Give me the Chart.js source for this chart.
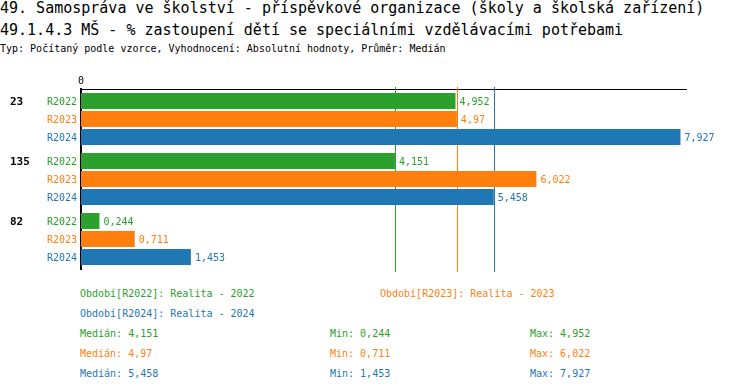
<!DOCTYPE html>
<html>
<head>
<meta charset="utf-8">
<script src="https://cdn.jsdelivr.net/npm/chart.js@4"></script>
<style>
  html, body { margin: 0; padding: 0; background: #fff; }
  body { width: 750px; height: 392px; position: relative; overflow: hidden; font-family: "DejaVu Sans Mono", monospace; }
  .t { position: absolute; white-space: pre; }
  .h1 { font-size: 15px; line-height: 16px; color: #000; }
  .sm { font-size: 10px; line-height: 12px; }
  #wrap { position: absolute; left: 0; top: 60px; width: 750px; height: 220px; }
</style>
</head>
<body>
<div class="t h1" style="left:0;top:0">49. Samospráva ve školství - příspěvkové organizace (školy a školská zařízení)</div>
<div class="t h1" style="left:0;top:22px">49.1.4.3 MŠ - % zastoupení dětí se speciálními vzdělávacími potřebami</div>
<div class="t sm" style="left:0;top:43px;color:#000">Typ: Počítaný podle vzorce, Vyhodnocení: Absolutní hodnoty, Průměr: Medián</div>
<div id="wrap"><canvas id="chart" width="750" height="220"></canvas></div>
<div id="info"></div>
<script>
'use strict';

// --- data ---
const GROUPS   = ['23', '135', '82'];
const SERIES   = ['R2022', 'R2023', 'R2024'];
const R2022    = [4.952, 4.151, 0.244];
const R2023    = [4.97, 6.022, 0.711];
const R2024    = [7.927, 5.458, 1.453];
const PERIODS  = ['Realita - 2022', 'Realita - 2023', 'Realita - 2024'];
const COLORS   = ['#2ca02c', '#ff7f0e', '#1f77b4'];

const VALUES = [R2022, R2023, R2024];
const fmt = v => String(v).replace('.', ',');
const median = arr => {
  const s = arr.slice().sort((a, b) => a - b);
  const m = Math.floor(s.length / 2);
  return s.length % 2 ? s[m] : (s[m - 1] + s[m]) / 2;
};
const MEDIANS = VALUES.map(median);

const FONT = '"DejaVu Sans Mono", monospace';

// group labels, row labels, value labels and median lines
const overlay = {
  id: 'overlay',
  beforeDatasetsDraw(chart) {
    const { ctx, chartArea, scales } = chart;
    ctx.save();
    ctx.lineWidth = 1;
    MEDIANS.forEach((m, i) => {
      const x = Math.round(scales.x.getPixelForValue(m)) + 0.5;
      ctx.strokeStyle = COLORS[i];
      ctx.beginPath();
      ctx.moveTo(x, chartArea.top - 2);
      ctx.lineTo(x, chartArea.bottom + 3);
      ctx.stroke();
    });
    ctx.restore();
  },
  afterDatasetsDraw(chart) {
    const { ctx, chartArea } = chart;
    ctx.save();
    ctx.textBaseline = 'middle';
    // group names sit on the first row of each group
    ctx.font = 'bold 11px ' + FONT;
    ctx.fillStyle = '#000';
    ctx.textAlign = 'left';
    chart.getDatasetMeta(0).data.forEach((bar, j) => {
      ctx.fillText(GROUPS[j], 10, bar.y + 1);
    });
    ctx.font = '10px ' + FONT;
    chart.data.datasets.forEach((ds, i) => {
      chart.getDatasetMeta(i).data.forEach((bar, j) => {
        ctx.fillStyle = COLORS[i];
        ctx.textAlign = 'right';
        ctx.fillText(SERIES[i], chartArea.left - 4, bar.y + 1);
        ctx.textAlign = 'left';
        ctx.fillText(fmt(ds.data[j]), bar.x + 4, bar.y + 1);
      });
    });
    ctx.restore();
  }
};

new Chart(document.getElementById('chart'), {
  type: 'bar',
  data: {
    labels: GROUPS,
    datasets: SERIES.map((s, i) => ({
      label: s,
      data: VALUES[i],
      backgroundColor: COLORS[i],
      categoryPercentage: 0.9,
      barPercentage: 16 / 18,
    }))
  },
  options: {
    indexAxis: 'y',
    responsive: false,
    animation: false,
    layout: { padding: { top: 9, bottom: 11, left: 10, right: 64 } },
    plugins: { legend: { display: false }, tooltip: { enabled: false } },
    scales: {
      x: {
        position: 'top',
        min: 0, max: 8,
        grid: { display: false, drawTicks: false, tickLength: 0 },
        border: { display: true, color: '#000', width: 1 },
        afterFit: s => { s.height = 20; },
        ticks: {
          autoSkip: false,
          stepSize: 1,
          padding: 2,
          color: '#000',
          font: { family: FONT, size: 10 },
          callback: v => (v === 0 ? '0' : '')
        }
      },
      y: {
        grid: { display: false },
        border: { display: true, color: '#000', width: 2 },
        afterFit: s => { s.width = 71; },
        ticks: { display: false }
      }
    }
  },
  plugins: [overlay]
});

// legend and statistics as text
const info = document.getElementById('info');
function put(text, x, y, color) {
  const d = document.createElement('div');
  d.className = 't sm';
  d.style.left = x + 'px';
  d.style.top = y + 'px';
  d.style.color = color;
  d.textContent = text;
  info.appendChild(d);
}
put('Období[' + SERIES[0] + ']: ' + PERIODS[0], 80, 288, COLORS[0]);
put('Období[' + SERIES[1] + ']: ' + PERIODS[1], 380, 288, COLORS[1]);
put('Období[' + SERIES[2] + ']: ' + PERIODS[2], 80, 308, COLORS[2]);
VALUES.forEach((vals, i) => {
  const y = 328 + i * 20;
  put('Medián: ' + fmt(MEDIANS[i]), 80, y, COLORS[i]);
  put('Min: ' + fmt(Math.min(...vals)), 330, y, COLORS[i]);
  put('Max: ' + fmt(Math.max(...vals)), 530, y, COLORS[i]);
});
</script>
</body>
</html>
